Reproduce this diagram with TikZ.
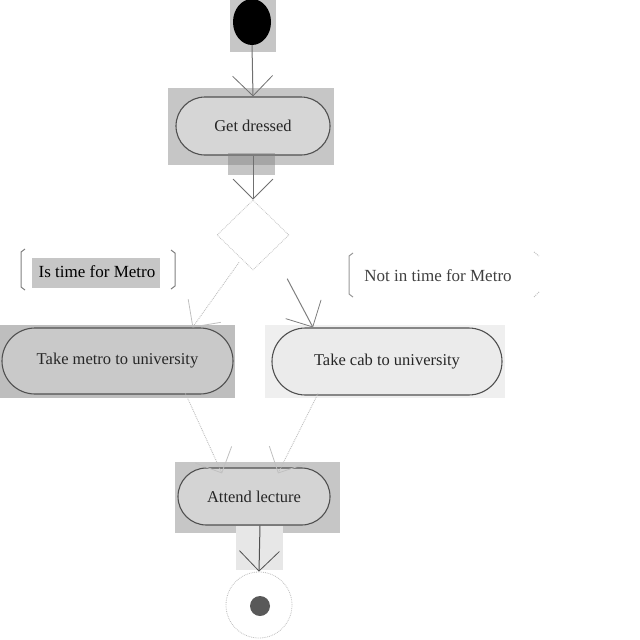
\documentclass[tikz,border=0pt]{standalone}
\usepackage{fontspec}
\setmainfont{Liberation Serif}
\usetikzlibrary{shapes.misc,shapes.geometric,arrows.meta,calc}
\definecolor{padA}{HTML}{C6C6C6}
\definecolor{padB}{HTML}{BEBEBE}
\definecolor{padC}{HTML}{EFEFEF}
\definecolor{fillA}{HTML}{D6D6D6}
\definecolor{fillB}{HTML}{C9C9C9}
\definecolor{fillC}{HTML}{EBEBEB}
\definecolor{edge}{HTML}{505050}
\definecolor{flowgray}{HTML}{707070}
\definecolor{faint}{HTML}{C0C0C0}
\tikzset{
  act/.style={rounded rectangle, draw=edge, line width=1.1pt, inner sep=0pt,
    font=\fontsize{16.5}{18}\selectfont, text=black!85},
  pad/.style={rectangle, draw=none, inner sep=0pt},
  vtip/.style={-{Straight Barb[length=20pt,width=40pt,line width=0.8pt]}},
  flow/.style={vtip, draw=flowgray, line width=1pt},
  dflow/.style={vtip, draw=faint, line width=0.9pt, densely dotted},
  guard/.style={font=\fontsize{17}{19}\selectfont, inner sep=0pt},
  bracket/.style={draw=gray, line width=1pt},
}
\begin{document}
\begin{tikzpicture}[x=1pt,y=-1pt]
\useasboundingbox (0,0) rectangle (640,640);
\fill[white] (0,0) rectangle (640,640);

% initial state
\node[pad, fill=padA, minimum width=46pt, minimum height=52pt] (startpad) at (253,26) {};
\node[ellipse, fill=black, minimum width=38pt, minimum height=46pt, inner sep=0pt] (start) at (252,22) {};

% Get dressed
\node[pad, fill=padA, minimum width=166pt, minimum height=77pt] (dresspad) at (251,126.5) {};
\node[act, fill=fillA, minimum width=154pt, minimum height=58pt] (dress) at (253,126) {Get dressed};
\node[pad, fill=gray, opacity=0.45, minimum width=47pt, minimum height=22pt] (dressbar) at (251.5,164) {};

% decision
\node[diamond, draw=faint, densely dotted, line width=0.8pt, minimum width=72pt, minimum height=70pt, inner sep=0pt] (dec) at (253,235) {};

% guards
\node[pad, fill=padA, minimum width=128pt, minimum height=30pt] (g1pad) at (96,273) {};
\node[guard] (g1) at (97,272) {Is time for Metro};
\draw[bracket] (25,249) -- (21,252) -- (21,287) -- (25,290);
\draw[bracket] (171,250) -- (175,253) -- (175,286) -- (171,289);

\node[guard, text=darkgray] (g2) at (438,276) {Not in time for Metro};
\draw[bracket, draw=gray!80] (353,253) -- (349,256) -- (349,294) -- (353,297);
\draw[bracket, draw=faint, densely dotted] (534,252) -- (539,256) (539,292) -- (534,297);

% the two ways to university
\node[pad, fill=padB, minimum width=235pt, minimum height=73pt] (metropad) at (117.5,361.5) {};
\node[act, fill=fillB, minimum width=231pt, minimum height=66pt] (metro) at (117.5,361) {Take metro to university};

\node[pad, fill=padC, minimum width=240pt, minimum height=73pt] (cabpad) at (385,361.5) {};
\node[act, fill=fillC, minimum width=230pt, minimum height=67pt] (cab) at (387,361.5) {Take cab to university};

% Attend lecture
\node[pad, fill=padA, minimum width=165pt, minimum height=71pt] (attpad) at (257.5,497.5) {};
\node[act, fill=fillA!85!padA, minimum width=152pt, minimum height=57pt] (attend) at (254,496.5) {Attend lecture};
\node[pad, fill=padC!80!padA, minimum width=47pt, minimum height=44pt] (attbar) at (259.5,548) {};

% final state
\node[circle, draw=faint, densely dotted, line width=0.8pt, minimum size=66pt, inner sep=0pt] (finish) at (259,605) {};
\node[circle, fill=edge!80!gray, minimum size=20pt, inner sep=0pt] (finishdot) at (260,606) {};

% flows
\draw[flow] (start.south) -- (dress.north);
\draw[flow] (dress.south) -- (dec.north);
\draw[dflow] ($(dec.south)+(-14,-8)$) -- ([xshift=75pt]metro.north);
\draw[flow, draw=gray] ($(dec.south east)+(16,26)$) -- ([xshift=-74pt]cab.north);
\draw[dflow] ([xshift=68pt,yshift=1pt]metro.south) -- ([xshift=-32pt,yshift=-6pt]attend.north);
\draw[dflow] ([xshift=-69pt,yshift=2pt]cab.south) -- ([xshift=24pt,yshift=-6pt]attend.north);
\draw[flow, draw=edge] ([xshift=6pt]attend.south) -- (finish.north);
\end{tikzpicture}
\end{document}
